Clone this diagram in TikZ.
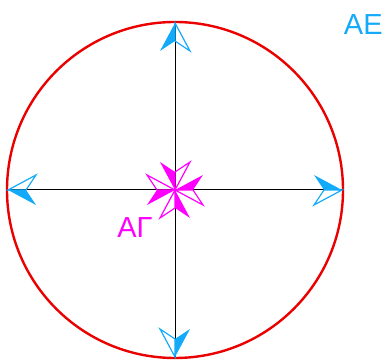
\documentclass[tikz,border=0pt]{standalone}
\usepackage{fontspec}
\setmainfont{Liberation Sans}
\definecolor{acyan}{RGB}{20,170,250}
\definecolor{amag}{RGB}{255,0,255}
\definecolor{ared}{RGB}{235,0,0}
\tikzset{
  headleft/.pic={
    \fill (0,0) -- (-28,15) -- (-18,0) -- cycle;
    \draw[line width=1.2pt,line join=miter] (0,0) -- (-28,-15) -- (-18,0) -- cycle;
  },
  headright/.pic={
    \fill (0,0) -- (-28,-15) -- (-18,0) -- cycle;
    \draw[line width=1.2pt,line join=miter] (0,0) -- (-28,15) -- (-18,0) -- cycle;
  },
  axisline/.style={line width=1pt,black},
  lbl/.style={inner sep=0pt,font=\fontsize{29}{29}\selectfont}
}
\begin{document}
\begin{tikzpicture}[x=1pt,y=1pt]
\useasboundingbox (0,0) rectangle (386,361);
\coordinate (O) at (175,171);
\coordinate (N) at (175,338);
\coordinate (S) at (175,4);
\coordinate (W) at (8,171);
\coordinate (E) at (342,171);
\draw[ared,line width=2.4pt] (O) circle (168);
\draw[axisline] (W) -- (E);
\draw[axisline] (S) -- (N);
% outer arrowheads
\begin{scope}[acyan]
\pic[rotate=90] at (N) {headleft};
\pic[rotate=-90] at (S) {headleft};
\pic[rotate=180] at (W) {headleft};
\pic[rotate=0] at (E) {headleft};
\end{scope}
% inner arrowheads
\begin{scope}[amag]
\pic[rotate=-90] at (O) {headright};
\pic[rotate=90] at (O) {headright};
\pic[rotate=0] at (O) {headright};
\pic[rotate=180] at (O) {headright};
\end{scope}
\node[lbl,text=acyan] (AE) at (363.3,336.5) {AE};
\node[lbl,text=amag] (AG) at (135,133) {AΓ};
\end{tikzpicture}
\end{document}
